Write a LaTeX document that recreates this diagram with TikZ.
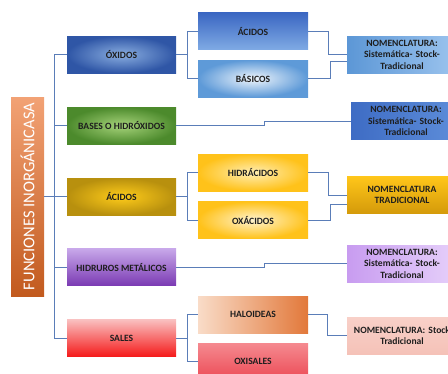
\documentclass[tikz,border=0pt]{standalone}
\usepackage{fontspec}
\setmainfont{Carlito}
\usepackage{tikz}
\usepackage{xcolor}

\definecolor{linkblue}{HTML}{5A7DB8}
\definecolor{txt}{HTML}{1E1E1E}

\begin{document}
\begin{tikzpicture}[x=1pt,y=-1pt,
		box/.style={minimum width=109pt,minimum height=37pt,inner sep=1pt,align=center,
			text=txt,font=\fontsize{9.6}{11.5}\selectfont\bfseries},
		subbox/.style={box,minimum width=110pt},
		nombox/.style={box,minimum width=110pt,text width=106pt},
		link/.style={draw=linkblue,line width=0.8pt}]
			\useasboundingbox (0,0) rectangle (448,373);
			% raiz
			\node[minimum width=33pt,minimum height=199pt,inner sep=0pt,top color={rgb,255:red,242;green,162;blue,117},
				bottom color={rgb,255:red,194;green,90;blue,30},text=white,font=\fontsize{16.5}{18}\selectfont]
				(root) at (27.5,196.5) {\rotatebox{90}{FUNCIONES INORGÁNICASA}};
			% primer nivel
			\node[box,inner color={rgb,255:red,138;green,174;blue,224},outer color={rgb,255:red,47;green,86;blue,166}] (oxidos) at (121.5,54.5) {ÓXIDOS};
			\node[box,inner color={rgb,255:red,166;green,211;blue,122},outer color={rgb,255:red,76;green,138;blue,44}] (bases) at (121.5,125.5) {BASES O HIDRÓXIDOS};
			\node[box,inner color={rgb,255:red,255;green,204;blue,26},outer color={rgb,255:red,184;green,144;blue,14}] (acidos) at (121.5,196.5) {ÁCIDOS};
			\node[box,top color={rgb,255:red,200;green,168;blue,234},bottom color={rgb,255:red,123;green,59;blue,179}] (hidruros) at (121.5,267) {HIDRUROS METÁLICOS};
			\node[box,top color={rgb,255:red,249;green,192;blue,192},bottom color={rgb,255:red,245;green,26;blue,26}] (sales) at (121.5,338) {SALES};
			% segundo nivel
			\node[subbox,top color={rgb,255:red,58;green,102;blue,194},bottom color={rgb,255:red,127;green,170;blue,228}] (acidosA) at (253,31) {ÁCIDOS};
			\node[subbox,inner color={rgb,255:red,240;green,246;blue,252},outer color={rgb,255:red,94;green,154;blue,216}] (basicos) at (253,78.5) {BÁSICOS};
			\node[subbox,inner color={rgb,255:red,255;green,238;blue,180},outer color={rgb,255:red,255;green,194;blue,26}] (hidracidos) at (253,172.5) {HIDRÁCIDOS};
			\node[subbox,inner color={rgb,255:red,255;green,244;blue,208},outer color={rgb,255:red,255;green,194;blue,26}] (oxacidos) at (253,220) {OXÁCIDOS};
			\node[subbox,left color={rgb,255:red,249;green,220;blue,200},right color={rgb,255:red,226;green,120;blue,58}] (haloideas) at (253,314.5) {HALOIDEAS};
			\node[subbox,top color={rgb,255:red,245;green,138;blue,144},bottom color={rgb,255:red,236;green,74;blue,85}] (oxisales) at (253,361.5) {OXISALES};
			% nomenclatura
			\node[nombox,left color={rgb,255:red,92;green,151;blue,214},right color={rgb,255:red,156;green,196;blue,238}] (nom1) at (402,54.5) {NOMENCLATURA:\\Sistemática- Stock-\\Tradicional};
			\node[nombox,left color={rgb,255:red,62;green,108;blue,196},right color={rgb,255:red,94;green,142;blue,218}] (nom2) at (406,121) {NOMENCLATURA:\\Sistemática- Stock-\\Tradicional};
			\node[nombox,top color={rgb,255:red,255;green,198;blue,26},bottom color={rgb,255:red,212;green,154;blue,10}] (nom3) at (402,195) {NOMENCLATURA\\TRADICIONAL};
			\node[nombox,left color={rgb,255:red,200;green,156;blue,240},right color={rgb,255:red,230;green,208;blue,250}] (nom4) at (402,263.5) {NOMENCLATURA:\\Sistemática- Stock-\\Tradicional};
			\node[nombox,top color={rgb,255:red,248;green,208;blue,200},bottom color={rgb,255:red,245;green,194;blue,184}] (nom5) at (402,335.5) {NOMENCLATURA: Stock\\Tradicional};
			% conectores
			\draw[link] (root.east) -- (acidos.west);
			\draw[link] (oxidos.west) -- ++(-12,0) |- (sales.west);
			\draw[link] (bases.west) -- ++(-12,0);
			\draw[link] (hidruros.west) -- ++(-12,0);
			\draw[link] (oxidos.east) -- ++(12,0); \draw[link] (acidosA.west) -- ++(-10,0) |- (basicos.west);
			\draw[link] (acidos.east) -- ++(12,0); \draw[link] (hidracidos.west) -- ++(-10,0) |- (oxacidos.west);
			\draw[link] (sales.east) -- ++(12,0); \draw[link] (haloideas.west) -- ++(-10,0) |- (oxisales.west);
			\draw[link] (acidosA.east) -- ++(20,0) |- (nom1.west);
			\draw[link] (basicos.east) -- ++(22,0) |- ([yshift=-6.5pt]nom1.west);
			\draw[link] (bases.east) -- ++(88,0) |- (nom2.west);
			\draw[link] (hidracidos.east) -- ++(20,0) |- (nom3.west);
			\draw[link] (oxacidos.east) -- ++(22,0) |- ([yshift=-9pt]nom3.west);
			\draw[link] (hidruros.east) -- ++(88,0) |- (nom4.west);
			\draw[link] (haloideas.east) -- ++(19,0) |- (nom5.west);
		\end{tikzpicture}
\end{document}
